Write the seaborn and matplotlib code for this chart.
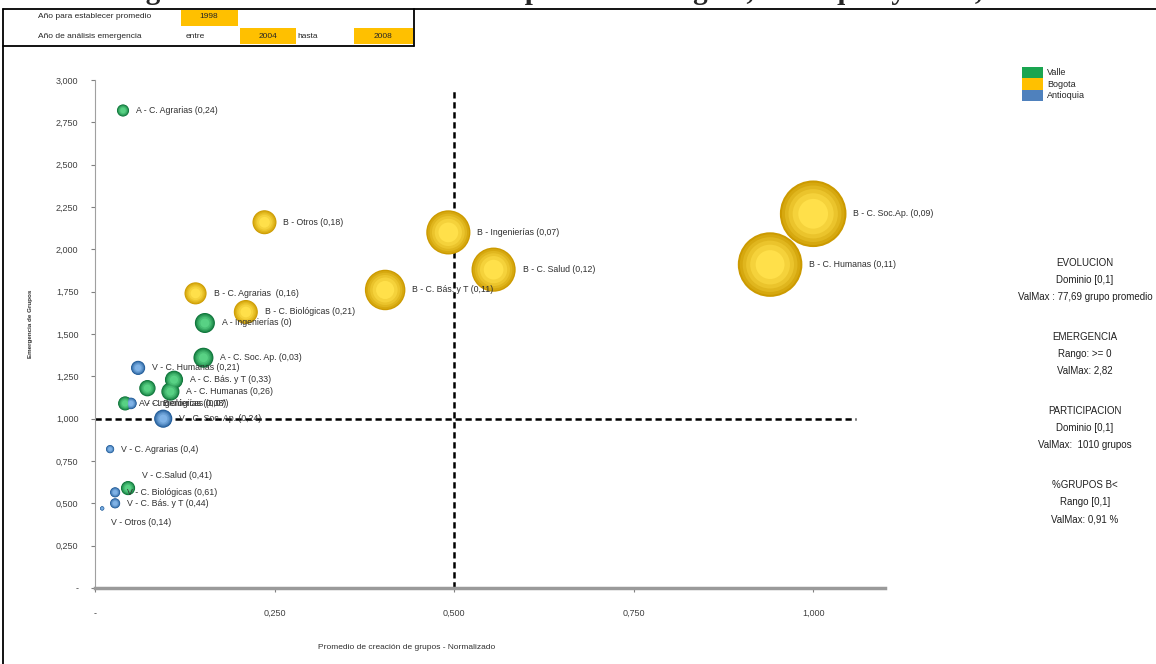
import numpy as np
import pandas as pd
import matplotlib
matplotlib.use('Agg')
import matplotlib.pyplot as plt
from matplotlib.lines import Line2D
from matplotlib.patches import Rectangle, Patch
from matplotlib.ticker import FuncFormatter, MultipleLocator
from matplotlib.colors import to_rgb
import seaborn as sns

# datos
etiquetas = ['B - C. Soc.Ap. (0,09)', 'B - C. Humanas (0,11)', 'B - Ingenierías (0,07)', 'B - C. Salud (0,12)',
             'B - C. Bás. y T (0,11)', 'B - Otros (0,18)', 'B - C. Agrarias  (0,16)', 'B - C. Biológicas (0,21)',
             'A - C. Agrarias (0,24)', 'A - Ingenierías (0)', 'A - C. Soc. Ap. (0,03)', 'A - C. Bás. y T (0,33)',
             'A - C. Humanas (0,26)', '', 'A - C. Biológicas (0,07)', 'V - C.Salud (0,41)',
             'V - C. Humanas (0,21)', 'V - C. Soc. Ap. (0,24)', 'V - Ingenierías (0,08)', 'V - C. Agrarias (0,4)',
             'V - C. Biológicas (0,61)', 'V - C. Bás. y T (0,44)', 'V - Otros (0,14)']
grupo = ['Bogotá'] * 8 + ['Antioquia'] * 8 + ['Valle'] * 7
creacion = [1.000, 0.940, 0.492, 0.555, 0.404, 0.236, 0.140, 0.210,
            0.039, 0.153, 0.151, 0.110, 0.105, 0.073, 0.042, 0.046,
            0.060, 0.095, 0.050, 0.021, 0.028, 0.028, 0.010]
emergencia = [2.21, 1.91, 2.10, 1.88, 1.76, 2.16, 1.74, 1.63,
              2.82, 1.565, 1.36, 1.23, 1.16, 1.18, 1.09, 0.59,
              1.30, 1.00, 1.09, 0.82, 0.565, 0.50, 0.47]
participacion = [1.00, 0.94, 0.44, 0.44, 0.37, 0.13, 0.11, 0.13,
                 0.033, 0.09, 0.09, 0.074, 0.074, 0.06, 0.045, 0.045,
                 0.045, 0.074, 0.03, 0.015, 0.023, 0.023, 0.004]

leyenda_nombres = ['Valle', 'Bogota', 'Antioquia']
leyenda_colores = ['#1aa550', '#ffc000', '#4f81bd']

umbral_x = 0.5
umbral_y = 1.0

bloques = [('EVOLUCION', 'Dominio [0,1]', 'ValMax : 77,69 grupo promedio'),
           ('EMERGENCIA', 'Rango: >= 0', 'ValMax: 2,82'),
           ('PARTICIPACION', 'Dominio [0,1]', 'ValMax:  1010 grupos'),
           ('%GRUPOS B<', 'Rango [0,1]', 'ValMax: 0,91 %')]

df = pd.DataFrame({'etiqueta': etiquetas, 'grupo': grupo, 'x': creacion,
                   'y': emergencia, 'part': participacion})

sns.set_style('white')
plt.rcParams['font.family'] = ['Liberation Sans', 'DejaVu Sans']

W, H = 1156, 664
def fx(p):
    return p / W
def fy(p):
    return 1 - p / H

fig = plt.figure(figsize=(W / 100, H / 100), dpi=100)
ax = fig.add_axes([fx(95), fy(588), (885 - 95) / W, (588 - 80) / H])

# capas concentricas para dar efecto de esfera (borde oscuro -> centro claro)
S_MAX = 2300
borde = {'Bogotá': '#cc9a00', 'Antioquia': '#0a7036', 'Valle': '#1b5693'}
centro = {'Bogotá': '#ffe04a', 'Antioquia': '#58d184', 'Valle': '#7fb2e6'}
factores = [1.0, 0.88, 0.72, 0.55, 0.38, 0.2]
for k, f in enumerate(factores):
    t = k / (len(factores) - 1)
    pal = {g: tuple((1 - t) * np.array(to_rgb(borde[g])) + t * np.array(to_rgb(centro[g]))) for g in borde}
    sns.scatterplot(data=df, x='x', y='y', hue='grupo', palette=pal, size='part',
                    sizes=(0, S_MAX * f), size_norm=(0, 1), linewidth=0, legend=False, ax=ax, zorder=3)

ajuste_v = {'V - C.Salud (0,41)': 9, 'V - Otros (0,14)': -10}
for _, r in df.iterrows():
    if not r['etiqueta']:
        continue
    rad = np.sqrt(S_MAX * r['part']) / 2
    ax.annotate(r['etiqueta'], (r['x'], r['y']), xytext=(rad + 5, ajuste_v.get(r['etiqueta'], 0)),
                textcoords='offset points', va='center', ha='left', fontsize=6.3, color='#303030', zorder=5)

ax.plot([umbral_x, umbral_x], [0, 2.95], color='black', lw=1.8, ls=(0, (2.5, 1.5)), zorder=2)
ax.plot([0, 1.06], [umbral_y, umbral_y], color='black', lw=1.8, ls=(0, (2.5, 1.5)), zorder=2)

ax.set_xlim(0, 1.1)
ax.set_ylim(0, 3.0)
ax.xaxis.set_major_locator(MultipleLocator(0.25))
ax.yaxis.set_major_locator(MultipleLocator(0.25))
fmt = FuncFormatter(lambda v, p: '-' if abs(v) < 1e-9 else '{:.3f}'.format(v).replace('.', ','))
ax.xaxis.set_major_formatter(fmt)
ax.yaxis.set_major_formatter(fmt)
ax.tick_params(axis='y', direction='out', length=3, color='#808080', pad=9, labelsize=6.5, labelcolor='#404040', left=True)
ax.tick_params(axis='x', direction='out', length=3, color='#808080', pad=12, labelsize=6.5, labelcolor='#404040', bottom=True)
for s in ['top', 'right']:
    ax.spines[s].set_visible(False)
ax.spines['left'].set_color('#a0a0a0')
ax.spines['left'].set_linewidth(0.8)
ax.spines['bottom'].set_color('#9a9a9a')
ax.spines['bottom'].set_linewidth(2.5)
ax.set_xlabel('Promedio de creación de grupos - Normalizado', fontsize=6, color='#303030')
ax.set_ylabel('Emergencia de Grupos', fontsize=4.5, fontweight='bold', color='#303030')
ax.xaxis.set_label_coords(0.395, -0.11)
ax.yaxis.set_label_coords(-0.078, 0.52)

# leyenda
handles = [Patch(facecolor=c, edgecolor='none') for c in leyenda_colores]
fig.legend(handles, leyenda_nombres, loc='upper left', bbox_to_anchor=(fx(1017), fy(62)), frameon=False,
           fontsize=6.5, handlelength=2.4, handleheight=1.6, labelspacing=0.0, handletextpad=0.4, borderpad=0)

# textos a la derecha
y0 = 263
for b in bloques:
    for k, t in enumerate(b):
        fig.text(fx(1085), fy(y0 + 17 * k), t, ha='center', va='center', fontsize=7, color='#202020')
    y0 += 74

# encabezado y marco
fig.text(fx(120), fy(-1), 'Figura 12. Gráfica General Comparativa – Bogotá, Antioquia y Valle, 1998 - 2008',
         family=['Liberation Serif', 'DejaVu Serif'], fontweight='bold', fontsize=21, va='baseline', ha='left')
fig.add_artist(Line2D([fx(3), 1], [fy(9), fy(9)], color='black', lw=1.3))
fig.add_artist(Line2D([fx(3), fx(3)], [fy(9), 0], color='black', lw=1.3))
fig.add_artist(Line2D([fx(414), fx(414)], [fy(9), fy(46)], color='black', lw=1.3))
fig.add_artist(Line2D([fx(3), fx(414)], [fy(46), fy(46)], color='black', lw=1.3))
for (x0, y1, x1, y2) in [(181, 10, 238, 26), (240, 28, 296, 44), (354, 28, 413, 44)]:
    fig.add_artist(Rectangle((fx(x0), fy(y2)), (x1 - x0) / W, (y2 - y1) / H, facecolor='#ffc000', edgecolor='none'))
fig.text(fx(95), fy(17), 'Año para establecer promedio', ha='center', va='center', fontsize=6)
fig.text(fx(209), fy(17), '1998', ha='center', va='center', fontsize=6)
fig.text(fx(90), fy(37), 'Año de análisis emergencia', ha='center', va='center', fontsize=6)
fig.text(fx(195), fy(37), 'entre', ha='center', va='center', fontsize=6)
fig.text(fx(268), fy(37), '2004', ha='center', va='center', fontsize=6)
fig.text(fx(308), fy(37), 'hasta', ha='center', va='center', fontsize=6)
fig.text(fx(383), fy(37), '2008', ha='center', va='center', fontsize=6)

fig.savefig('out.png', dpi=100)
